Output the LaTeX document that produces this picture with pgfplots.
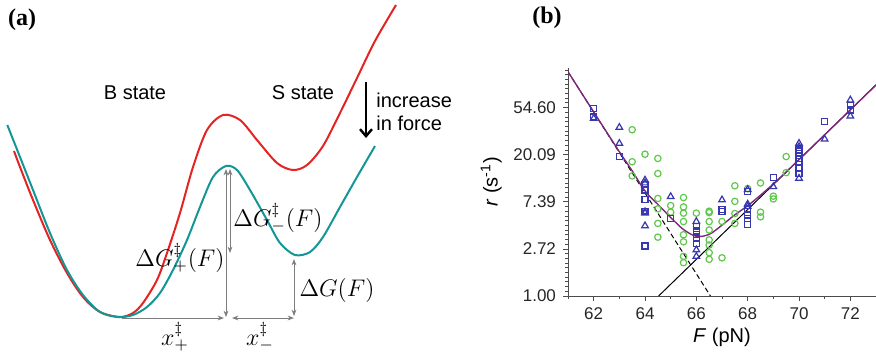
\documentclass[border=0pt]{standalone}
\usepackage{pgfplots}
\pgfplotsset{compat=1.18}
\usepackage{fontspec}
\setmainfont{Liberation Sans}
\newfontfamily\serifb{Liberation Serif}
\usetikzlibrary{arrows.meta}
\definecolor{teal1}{RGB}{20,150,150}
\definecolor{red1}{RGB}{228,35,35}
\definecolor{blue1}{RGB}{55,55,175}
\definecolor{green1}{RGB}{95,200,75}
\definecolor{purp}{RGB}{125,40,125}
\definecolor{annot}{RGB}{125,125,125}
\begin{document}
\begin{tikzpicture}
\useasboundingbox (0,0) rectangle (438pt,177pt);
% ---------------- panel (a) ----------------
\begin{axis}[at={(0,0)}, anchor=south west, scale only axis,
  width=438pt, height=177pt, xmin=0, xmax=876, ymin=0, ymax=354,
  y dir=reverse, hide axis, clip=false]
\addplot[red1, line width=1pt, smooth, tension=0.5] coordinates {
(14,151) (20,167) (33,200) (50,240) (67,273) (83,297) (100,312) (120,317)
(133,313) (143,303) (157,280) (167,253) (180,213) (193,167) (207,130)
(223,115) (240,120) (257,140) (277,163) (293,170) (307,165) (323,146)
(340,113) (357,78) (375,41) (396,5)};
\addplot[teal1, line width=1pt, smooth, tension=0.5] coordinates {
(7.3,125) (20,157) (33,190) (50,233) (67,270) (83,295) (100,312) (118,317)
(133,315) (147,307) (160,293) (173,270) (187,240) (200,207) (213,177)
(226,166) (237,170) (250,190) (267,220) (280,243) (295,255) (310,252)
(323,237) (340,207) (357,177) (375,146)};
% annotation arrows
\begin{scope}[annot, line width=0.45pt, >={Stealth[length=3.2pt,width=2.4pt]}]
\draw[->] (axis cs:122,318) -- (axis cs:224,318);
\draw[<->] (axis cs:232,318) -- (axis cs:294,318);
\draw[<->] (axis cs:226,169) -- (axis cs:226,317);
\draw[<->] (axis cs:230,169) -- (axis cs:230,253);
\draw[<->] (axis cs:294,259) -- (axis cs:294,316);
\end{scope}
\begin{scope}[every node/.style={font=\fontsize{12}{14}\selectfont}]
\node at (axis cs:278,218) {$\Delta G^{\ddagger}_{-}(F)$};
\node at (axis cs:180,258) {$\Delta G^{\ddagger}_{+}(F)$};
\node at (axis cs:337,290) {$\Delta G(F)$};
\node at (axis cs:175,337) {$x^{\ddagger}_{+}$};
\node at (axis cs:260,337) {$x^{\ddagger}_{-}$};
\end{scope}
\node[font=\fontsize{10}{12}\selectfont] at (axis cs:135,93) {B state};
\node[font=\fontsize{10}{12}\selectfont] at (axis cs:303,93) {S state};
\node[anchor=west, inner sep=0pt, font=\fontsize{10}{12}\selectfont] at (axis cs:376,100) {increase};
\node[anchor=west, inner sep=0pt, font=\fontsize{10}{12}\selectfont] at (axis cs:376,123) {in force};
\draw[black, line width=1.2pt, -{Straight Barb[length=3.5pt,width=6pt]}] (axis cs:366,82) -- (axis cs:366,138);
\node[font=\serifb\bfseries\fontsize{12}{14}\selectfont] at (axis cs:22,20) {(a)};
\node[font=\serifb\bfseries\fontsize{12}{14}\selectfont] at (axis cs:547,18) {(b)};
\end{axis}
% ---------------- panel (b) ----------------
\begin{axis}[at={(284pt,29pt)}, anchor=south west, scale only axis,
  width=154pt, height=114pt,
  xmin=61, xmax=73, ymode=log, ymin=1, ymax=126.5,
  axis x line*=bottom, axis y line*=left, axis line style={draw=black!70, -},
  xtick={62,64,...,72}, minor xtick={61,63,...,73},
  ytick={1,2.718281828,7.389056,20.085537,54.59815},
  yticklabels={1.00,2.72,7.39,20.09,54.60},
  minor ytick={1.1052,1.2214,1.3499,1.4918,1.6487,1.8221,2.0138,2.2255,2.4596,
    3.0042,3.3201,3.6693,4.0552,4.4817,4.9530,5.4739,6.0496,6.6859,
    8.1662,9.0250,9.9742,11.023,12.182,13.464,14.880,16.445,18.174,
    22.198,24.533,27.113,29.964,33.115,36.598,40.447,44.701,49.402,
    60.340,66.686,73.700,81.451,90.017,99.484,109.95,121.51},
  tick align=outside, major tick length=2.5pt, minor tick length=1.3pt,
  tick style={black!70, line width=0.4pt},
  /pgf/number format/assume math mode=true,
  ticklabel style={font=\fontsize{8.5}{10}\selectfont, text=black!85},
  xlabel={\textit{F} (pN)}, ylabel={\textit{r} (s\textsuperscript{-1})},
  label style={font=\fontsize{10}{12}\selectfont},
  xlabel style={yshift=3pt}, ylabel style={yshift=-1pt}]
% green circles
\addplot[only marks, mark=o, mark size=1.6pt, green1, mark options={line width=0.6pt}] coordinates {
(63.5,34.12) (63.5,17.29) (63.5,12.81) (64,20.29)
(64.5,18.54) (64.5,13.46) (64.5,7.93) (64.5,6.36) (64.5,4.67) (64.5,3.49)
(65,6.82) (65,5.93)
(65.5,8.09) (65.5,6.62) (65.5,5.81) (65.5,4.86) (65.5,3.67) (65.5,3.16) (65.5,2.32) (65.5,2.03)
(66,5.81)
(66.5,6.05) (66.5,5.87) (66.5,4.86) (66.5,4.06) (66.5,3.29) (66.5,2.95) (66.5,2.51) (66.5,2.18)
(67,4.86) (67,2.25)
(67.5,10.38) (67.5,7.46) (67.5,5.76) (67.5,4.67)
(68,9.78)
(68.5,11.02) (68.5,5.93) (68.5,5.37)
(69,8.33) (69,7.85)
(69.5,19.3) (69.5,13.74)};
% blue squares
\addplot[only marks, mark=square, mark size=1.5pt, blue1, mark options={line width=0.6pt}] coordinates {
(62,53.5) (62,44.7) (63,19.3)
(64,10.59) (64,9.49) (64,7.77) (64,6.05) (64,2.89)
(65,5.21)
(66,4.35) (66,3.98) (66,3.67) (66,3.42) (66,3.07)
(67,6.23) (67,5.99)
(68,9.21) (68,6.23) (68,5.59) (68,5.21) (68,4.53)
(69,12.43)
(70,22.2) (70,20.7) (70,18.54) (70,17.29) (70,15.03) (70,13.46)
(71,40.45)
(72,57.4) (72,51.94)};
% blue triangles
\addplot[only marks, mark=triangle, mark size=1.9pt, blue1, mark options={line width=0.6pt}] coordinates {
(62,43.4) (63,35.87) (63,25.53)
(64,11.70) (64,11.02) (64,5.99) (64,5.81) (64,4.44)
(65,8.25)
(66,4.86) (66,2.66) (66,2.32)
(67,7.69)
(68,9.58) (68,7.03) (68,6.69)
(69,10.18)
(70,25.53) (70,23.81) (70,12.18)
(71,27.94)
(72,64.07) (72,45.6)};
% black lines
\addplot[black, line width=0.5pt, dash pattern=on 2.5pt off 1.5pt] coordinates {(61,116.7) (66.55,1)};
\addplot[black, line width=0.5pt] coordinates {(64.53,1) (73,88.3)};
% purple fit
\addplot[purp, line width=0.7pt, smooth] coordinates {
(61,116.9) (61.5,76.2) (62,49.8) (62.5,32.6) (63,21.4) (63.5,14.25)
(64,9.3) (64.5,7.0) (65,5.3) (65.5,4.1) (66,3.55) (66.5,3.7) (67,4.5)
(67.5,5.6) (68,6.8) (68.5,8.5) (69,10.8) (69.5,13.94) (70,18.11)
(70.5,23.53) (71,30.66) (71.5,39.9) (72,52.0) (72.5,67.8) (73,88.3)};
\end{axis}
\end{tikzpicture}
\end{document}
